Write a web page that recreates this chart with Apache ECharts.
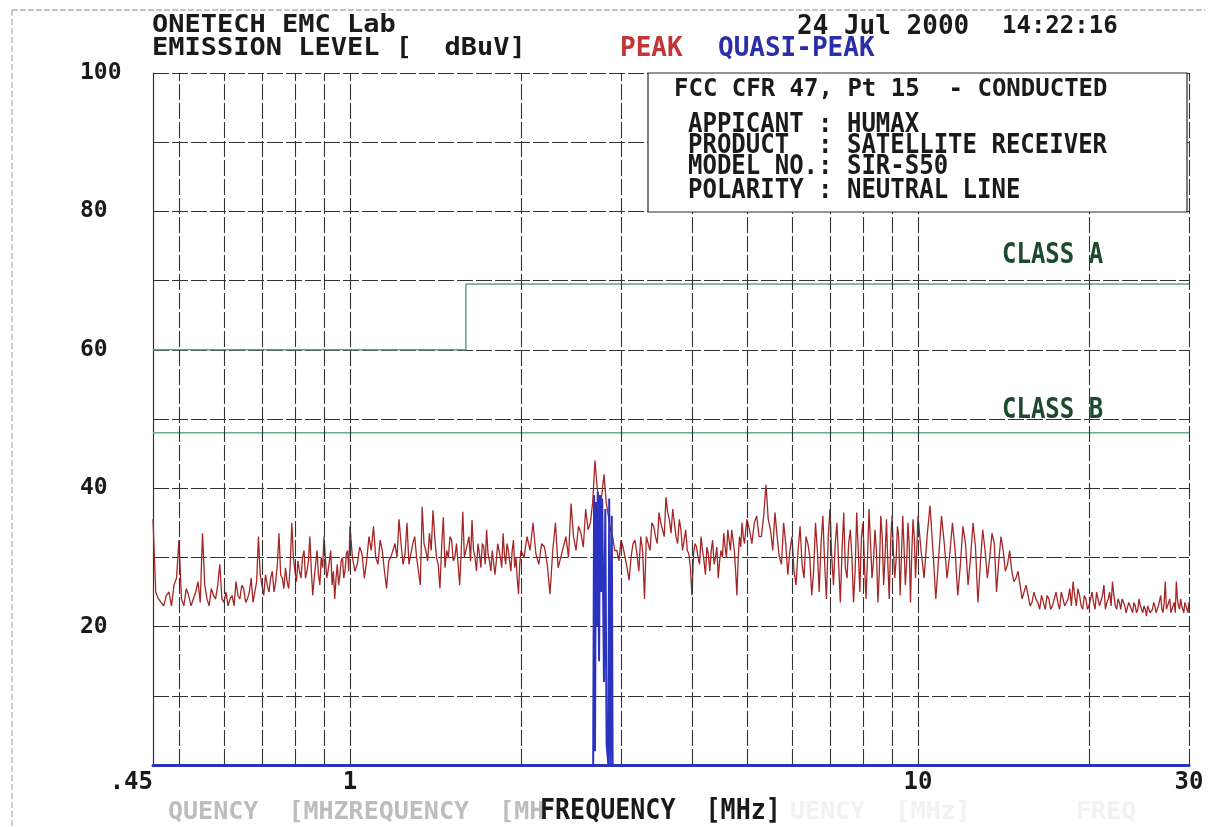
<!DOCTYPE html>
<html><head><meta charset="utf-8">
<script src="https://cdn.jsdelivr.net/npm/echarts@6/dist/echarts.min.js"></script>
<style>html,body{margin:0;padding:0;background:#fff}#c{width:1221px;height:827px}</style>
</head><body><div id="c"></div>
<script>
// ---------- data ----------
const xGridMHz = [0.5,0.6,0.7,0.8,0.9,1,2,3,4,5,6,7,8,9,10,20,30];
const xLabelValues = [0.45, 1, 10, 30];
const xLabelTexts = ['.45', '1', '10', '30'];
const yLabelValues = [20, 40, 60, 80, 100];

const classA = [[0.45,60],[1.6,60],[1.6,69.5],[30,69.5]];
const classB = [[0.45,48],[30,48]];

const peak1 = [[0.45,35.5],[0.46,24],[0.47,23],[0.48,25],[0.49,26],[0.50,32.5],[0.51,23],[0.52,24.5],[0.53,24],[0.54,26.5],[0.55,33.5],[0.56,24],[0.57,25.5],[0.58,24],[0.59,29],[0.60,23.5],[0.61,23],[0.62,24.5],[0.63,26.5],[0.64,24],[0.65,25.5],[0.66,24],[0.67,27],[0.68,25],[0.69,33],[0.70,26],[0.71,27.5],[0.72,25],[0.73,28],[0.74,26.5],[0.75,33.5],[0.76,27],[0.77,28.5],[0.78,25.5],[0.79,35],[0.80,28],[0.81,29.5],[0.82,27],[0.83,31],[0.84,28],[0.85,33],[0.86,24.5],[0.87,29],[0.88,27.5],[0.89,30],[0.90,33],[0.91,27],[0.92,29.5],[0.93,26],[0.94,24],[0.95,29],[0.96,27.5],[0.97,30],[0.98,28],[0.99,31],[1.00,34.5]];
const peak1m = [[0.455,25],[0.465,23.5],[0.475,24.5],[0.485,23],[0.495,27],[0.505,24],[0.515,25.5],[0.525,23],[0.535,25],[0.545,23.5],[0.555,26],[0.565,23],[0.575,24.5],[0.585,26],[0.595,24],[0.605,25],[0.615,24],[0.625,23],[0.635,24.5],[0.645,26],[0.655,23.5],[0.665,25],[0.675,23.5],[0.685,26.5],[0.695,27.5],[0.705,24.5],[0.715,26],[0.725,27],[0.735,25],[0.745,29],[0.755,27.5],[0.765,25.5],[0.775,26.5],[0.785,29],[0.795,30],[0.805,26.5],[0.815,28],[0.825,30],[0.835,27],[0.845,29.5],[0.855,28],[0.865,27],[0.875,31],[0.885,26],[0.895,28.5],[0.905,30],[0.915,28],[0.925,31],[0.935,28],[0.945,27],[0.955,26],[0.965,29.5],[0.975,27],[0.985,30.5],[0.995,28]];

const peak2 = [[1.02,28],[1.04,31.5],[1.06,27],[1.08,33],[1.10,34.5],[1.12,29],[1.14,31],[1.16,25.5],[1.18,30],[1.20,32],[1.22,35.5],[1.24,29],[1.26,35],[1.28,30.5],[1.30,33],[1.32,28],[1.34,37.3],[1.36,31],[1.38,33.5],[1.40,36.8],[1.42,30],[1.44,25.5],[1.46,35.8],[1.48,31],[1.50,33],[1.52,29.5],[1.54,32],[1.56,26],[1.58,36.6],[1.60,31],[1.62,33],[1.64,35.4],[1.66,30],[1.68,32],[1.70,28.5],[1.72,31.5],[1.74,34],[1.76,29.5],[1.78,31],[1.80,27.5],[1.82,32],[1.84,30],[1.86,33.5],[1.88,29],[1.90,31],[1.92,28],[1.94,32.5],[1.96,30],[1.98,24.7],[2.00,31]];
const peak2m = [[1.01,30],[1.03,29],[1.05,30.5],[1.07,29.5],[1.09,31],[1.11,30],[1.13,32.5],[1.15,28],[1.17,29.5],[1.19,31],[1.21,30],[1.23,32],[1.25,30.5],[1.27,29],[1.29,32],[1.31,30],[1.33,26],[1.35,32],[1.37,29.5],[1.39,31],[1.41,33],[1.43,29],[1.45,31.5],[1.47,28.5],[1.49,30],[1.51,32.5],[1.53,30],[1.55,29],[1.57,31],[1.59,30],[1.61,32],[1.63,29.5],[1.65,31],[1.67,28],[1.69,30.5],[1.71,32],[1.73,29],[1.75,30.5],[1.77,28],[1.79,31],[1.81,29.5],[1.83,31],[1.85,28.5],[1.87,30.5],[1.89,32],[1.91,29.5],[1.93,31],[1.95,28.5],[1.97,27],[1.99,29]];

const peak3 = [[2.05,33],[2.10,35],[2.15,29],[2.20,31.5],[2.25,24.7],[2.30,35],[2.35,30],[2.40,33],[2.45,37.8],[2.50,31],[2.55,33.5],[2.60,37],[2.65,35],[2.70,44],[2.75,37],[2.80,42],[2.85,36],[2.90,33],[2.95,31],[3.00,32.5],[3.05,30],[3.10,26.7],[3.15,32],[3.20,30.5],[3.25,33],[3.30,24],[3.35,32],[3.40,35],[3.45,33],[3.50,36.5],[3.55,34],[3.60,38.7],[3.65,35.5],[3.70,37],[3.75,33],[3.80,35.5],[3.85,31],[3.90,34],[3.95,30.5],[4.00,24.5],[4.05,32],[4.10,30],[4.15,33],[4.20,29.5],[4.25,31.5],[4.30,28],[4.35,32.5],[4.40,30],[4.45,27],[4.50,31],[4.55,33.5],[4.60,30],[4.65,32.5],[4.70,34],[4.75,31],[4.80,24.5],[4.85,33],[4.90,35],[4.95,32],[5.00,35.5]];
const peak3m = [[2.025,30],[2.075,31],[2.125,30.5],[2.175,32],[2.225,29],[2.275,31],[2.325,28.5],[2.375,31.5],[2.425,30],[2.475,33],[2.525,34.5],[2.575,31.5],[2.625,34],[2.675,38],[2.725,40],[2.775,39],[2.825,38],[2.875,34],[2.925,31],[2.975,29.5],[3.025,31.5],[3.075,28.5],[3.125,30],[3.175,32.5],[3.225,28],[3.275,31],[3.325,33],[3.375,31],[3.425,34.5],[3.475,32],[3.525,35],[3.575,33],[3.625,36.5],[3.675,33.5],[3.725,35],[3.775,32],[3.825,34],[3.875,32.5],[3.925,31],[3.975,28.5],[4.025,30.5],[4.075,31.5],[4.125,29],[4.175,31],[4.225,27.5],[4.275,30.5],[4.325,31],[4.375,29],[4.425,31.5],[4.475,29.5],[4.525,30],[4.575,31.5],[4.625,34],[4.675,31],[4.725,32.5],[4.775,28],[4.825,30],[4.875,31.5],[4.925,33],[4.975,34]];

const peak4 = [[5.1,32],[5.2,36],[5.3,33],[5.4,40.5],[5.5,34],[5.6,36.5],[5.7,30],[5.8,35],[5.9,27.5],[6.0,33],[6.1,26],[6.2,34.5],[6.3,27],[6.4,32],[6.5,24.5],[6.6,35],[6.7,25],[6.8,36],[6.9,24],[7.0,37],[7.1,26],[7.2,35],[7.3,23.5],[7.4,36.5],[7.5,27],[7.6,34],[7.7,23.5],[7.8,36.5],[7.9,25],[8.0,35],[8.1,24],[8.2,37],[8.3,27],[8.4,34],[8.5,23.5],[8.6,36],[8.7,26],[8.8,35.5],[8.9,24],[9.0,36],[9.1,27],[9.2,34.5],[9.3,24.5],[9.4,36],[9.5,26],[9.6,35],[9.7,23.5],[9.8,35.5],[9.9,27],[10.0,36]];
const peak4m = [[5.05,34],[5.15,35],[5.25,33],[5.35,36],[5.45,35.5],[5.55,31],[5.65,33],[5.75,29],[5.85,32],[5.95,31],[6.05,28],[6.15,31],[6.25,29],[6.35,33],[6.45,30],[6.55,28],[6.65,31],[6.75,32],[6.85,29],[6.95,33],[7.05,30],[7.15,32],[7.25,29],[7.35,31],[7.45,28.5],[7.55,32],[7.65,30],[7.75,28],[7.85,31],[7.95,33],[8.05,29],[8.15,30],[8.25,32],[8.35,29.5],[8.45,31],[8.55,28],[8.65,33],[8.75,30],[8.85,29],[8.95,32],[9.05,31],[9.15,29.5],[9.25,33],[9.35,30],[9.45,31.5],[9.55,29],[9.65,32],[9.75,30.5],[9.85,33],[9.95,31]];

const peak5 = [[10.25,27],[10.5,37.5],[10.75,24],[11.0,36],[11.25,27],[11.5,35],[11.75,24.5],[12.0,34.5],[12.25,26],[12.5,35],[12.75,23.5],[13.0,34],[13.25,27],[13.5,33.5],[13.75,25],[14.0,33],[14.25,28],[14.5,31],[14.75,26.5],[15.0,28],[15.25,24],[15.5,26],[15.75,23],[16.0,25],[16.25,23.5],[16.5,24.5],[16.75,22.5],[17.0,24],[17.25,23],[17.5,25],[17.75,22.5],[18.0,24],[18.25,23],[18.5,25.5],[18.75,26.5],[19.0,23],[19.25,24.5],[19.5,22.5],[19.75,24],[20.0,23],[20.25,25],[20.5,22.5],[20.75,24],[21.0,23],[21.25,26],[21.5,23.5],[21.75,25],[22.0,26.5],[22.25,23],[22.5,24],[22.75,22.5],[23.0,24],[23.25,22],[23.5,23.5],[23.75,22.5],[24.0,23.5],[24.25,22],[24.5,24],[24.75,22.5],[25.0,23],[25.25,21.5],[25.5,23],[25.75,22],[26.0,23.5],[26.25,22],[26.5,23],[26.75,24.5],[27.0,22],[27.25,26.5],[27.5,23],[27.75,24],[28.0,22.5],[28.25,23.5],[28.5,26.5],[28.75,23],[29.0,24],[29.25,22.5],[29.5,23.5],[29.75,22.5],[30.0,23.5]];
const peak5m = [[10.125,31],[10.375,33],[10.625,31],[10.875,30],[11.125,32],[11.375,30.5],[11.625,31],[11.875,29],[12.125,32],[12.375,30],[12.625,31.5],[12.875,29],[13.125,31],[13.375,30],[13.625,32],[13.875,29.5],[14.125,31],[14.375,29],[14.625,28],[14.875,27],[15.125,26],[15.375,25],[15.625,24.5],[15.875,23.5],[16.125,24],[16.375,22.5],[16.625,23.5],[16.875,24.5],[17.125,22.5],[17.375,24],[17.625,23.5],[17.875,25],[18.125,23],[18.375,24],[18.625,23],[18.875,24.5],[19.125,25.5],[19.375,23],[19.625,24.5],[19.875,22.5],[20.125,24],[20.375,23.5],[20.625,25],[20.875,23],[21.125,24.5],[21.375,22.5],[21.625,24],[21.875,23],[22.125,24.5],[22.375,22.5],[22.625,23.5],[22.875,24],[23.125,23],[23.375,22],[23.625,23],[23.875,22],[24.125,23],[24.375,22.5],[24.625,23],[24.875,22],[25.125,22.5],[25.375,23],[25.625,22],[25.875,22.5],[26.125,23],[26.375,22],[26.625,23],[26.875,22.5],[27.125,23.5],[27.375,22.5],[27.625,23],[27.875,22],[28.125,23],[28.375,22],[28.625,24],[28.875,22.5],[29.125,23],[29.375,22],[29.625,23],[29.875,22]];

const quasiPeak = [[0.45,0],[2.68,0],[2.69,39],[2.70,2],[2.71,38],[2.72,20],[2.73,39.5],[2.745,15],[2.755,39],[2.77,25],[2.78,38.5],[2.80,12],[2.815,37],[2.83,3],[2.85,0],[2.86,38.5],[2.875,0],[2.89,36],[2.90,0],[30,0]];

const peak = peak1.concat(peak1m, peak2, peak2m, peak3, peak3m, peak4, peak4m, peak5, peak5m)
  .sort(function (a, b) { return a[0] - b[0]; });

// ---------- chart ----------
const MONO = '"DejaVu Sans Mono", "Liberation Mono", monospace';
function txt(text, x, y, size, color, sy) {
  return { type: 'text', x: x, y: y, scaleY: sy || 1, z: 120, silent: true,
    style: { text: text, fill: color, font: 'bold ' + size + 'px ' + MONO, align: 'left', verticalAlign: 'middle' } };
}
const gridStyle = { color: '#333', width: 1.1, type: [16, 3] };

const chart = echarts.init(document.getElementById('c'), null, { renderer: 'canvas' });
chart.setOption({
  animation: false,
  backgroundColor: '#fff',
  grid: { left: 153, right: 32, top: 73, bottom: 62, containLabel: false },
  xAxis: {
    type: 'log', logBase: 10, min: 0.45, max: 30,
    splitLine: { show: false }, axisTick: { show: false },
    axisLine: { show: true, lineStyle: { color: '#2e35b8', width: 3 } },
    axisLabel: {
      show: true, margin: 6, color: '#1a1a1a', fontFamily: MONO, fontWeight: 'bold', fontSize: 24,
      showMinLabel: true, showMaxLabel: true, alignMinLabel: 'right',
      formatter: function (v) {
        let best = 0, d = Infinity;
        xLabelValues.forEach(function (t, i) { const e = Math.abs(Math.log10(v) - Math.log10(t)); if (e < d) { d = e; best = i; } });
        return d < 0.01 ? xLabelTexts[best] : '';
      }
    }
  },
  yAxis: {
    type: 'value', min: 0, max: 100, interval: 10,
    axisLine: { show: true, lineStyle: { color: '#333', width: 1.2 } },
    axisTick: { show: false },
    splitLine: { show: true, lineStyle: gridStyle },
    axisLabel: {
      align: 'left', margin: 73, color: '#1a1a1a', fontFamily: MONO, fontWeight: 'bold', fontSize: 23,
      formatter: function (v) { return yLabelValues.indexOf(v) >= 0 ? String(v) : ''; }
    }
  },
  series: [
    { name: 'CLASS B', type: 'line', data: classB, showSymbol: false, symbol: 'none', z: 3,
      lineStyle: { color: '#6ab08a', width: 1.5 },
      markLine: { silent: true, symbol: ['none', 'none'], label: { show: false },
        lineStyle: gridStyle, data: xGridMHz.map(function (v) { return { xAxis: v }; }) } },
    { name: 'CLASS A', type: 'line', data: classA, showSymbol: false, symbol: 'none', z: 3,
      lineStyle: { color: '#5ea57f', width: 1.5 } },
    { name: 'PEAK', type: 'line', data: peak, showSymbol: false, symbol: 'none', z: 4,
      lineStyle: { color: '#a52626', width: 1.3 } },
    { name: 'QUASI-PEAK', type: 'line', data: quasiPeak, showSymbol: false, symbol: 'none', z: 5, clip: false,
      lineStyle: { color: '#2a33c0', width: 2 } }
  ],
  graphic: [
    { type: 'line', z: 1, silent: true, shape: { x1: 12, y1: 10, x2: 1205, y2: 10 }, style: { stroke: '#8a8a8a', lineWidth: 1, lineDash: [6, 2] } },
    { type: 'line', z: 1, silent: true, shape: { x1: 12, y1: 10, x2: 12, y2: 827 }, style: { stroke: '#9a9a9a', lineWidth: 1, lineDash: [6, 3] } },
    { type: 'rect', z: 100, silent: true, shape: { x: 648, y: 73, width: 539, height: 139 }, style: { fill: '#fff', stroke: '#2a2a2a', lineWidth: 1.2 } },
    txt('ONETECH EMC Lab', 152, 26, 27, '#1a1a1a', 0.92),
    txt('EMISSION LEVEL [  dBuV]', 152, 48, 27, '#1a1a1a', 0.95),
    txt('PEAK', 620, 49, 26, '#c03535', 1),
    txt('QUASI-PEAK', 718, 49, 26, '#2b2fa6', 1),
    txt('24 Jul 2000', 797, 27, 26, '#1a1a1a', 1),
    txt('14:22:16', 1002, 27, 24, '#1a1a1a', 1),
    txt('FCC CFR 47, Pt 15  - CONDUCTED', 674, 90, 24, '#1a1a1a', 1),
    txt('APPICANT : HUMAX', 688, 125, 24, '#1a1a1a', 1.12),
    txt('PRODUCT  : SATELLITE RECEIVER', 688, 146, 24, '#1a1a1a', 1.12),
    txt('MODEL NO.: SIR-S50', 688, 167, 24, '#1a1a1a', 1.12),
    txt('POLARITY : NEUTRAL LINE', 688, 191, 24, '#1a1a1a', 1.12),
    txt('CLASS A', 1002, 256, 24, '#1d4a2c', 1.15),
    txt('CLASS B', 1002, 411, 24, '#1d4a2c', 1.15),
    txt('QUENCY  [MHZREQUENCY  [MH', 168, 812, 25, '#bdbdbd', 1),
    txt('UENCY  [MHz]       FREQ', 790, 812, 25, '#f2f2f2', 1),
    txt('FREQUENCY  [MHz]', 540, 812, 25, '#1a1a1a', 1.1)
  ]
});
</script>
</body></html>
